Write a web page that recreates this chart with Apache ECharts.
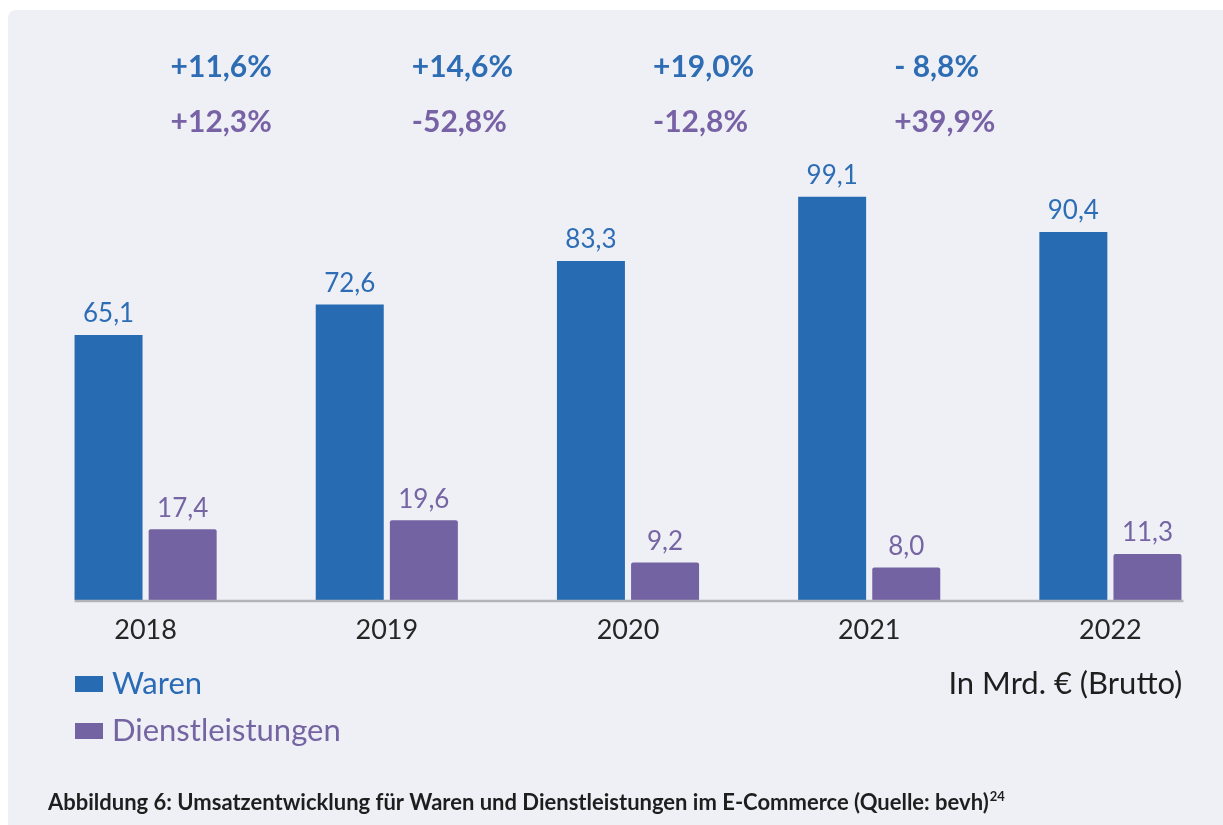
<!DOCTYPE html>
<html>
<head>
<meta charset="utf-8">
<script src="https://cdn.jsdelivr.net/npm/echarts@6/dist/echarts.min.js"></script>
<style>
  html, body { margin: 0; padding: 0; background: #ffffff; overflow: hidden; }
  #panel {
    position: absolute; left: 8px; top: 10px; right: 0; bottom: 0;
    background: #eff0f6; border-top-left-radius: 8px;
  }
  /* a bit wider than the window: the last category band runs past the right edge */
  #chart { position: absolute; left: 0; top: 0; width: 1240px; height: 825px; }
</style>
</head>
<body>
<div id="panel"></div>
<div id="chart"></div>
<script>
const years = ["2018", "2019", "2020", "2021", "2022"];
const waren = [65.1, 72.6, 83.3, 99.1, 90.4];
const dienstleistungen = [17.4, 19.6, 9.2, 8.0, 11.3];
// growth between consecutive years, shown above the bars
const warenGrowth = ["+11,6%", "+14,6%", "+19,0%", "- 8,8%"];
const dienstGrowth = ["+12,3%", "-52,8%", "-12,8%", "+39,9%"];

const blue = "#276bb3";
const purple = "#7463a2";
const font = "Lato";

const fmt = (v) => v.toFixed(1).replace(".", ",");

const chart = echarts.init(document.getElementById("chart"));

chart.setOption({
  animation: false,
  backgroundColor: "transparent",
  textStyle: { fontFamily: font },
  grid: { left: 25, top: 193, width: 1206, bottom: 225 },
  legend: {
    left: 75,
    top: 666,
    padding: 0,
    orient: "vertical",
    icon: "rect",
    itemWidth: 28,
    itemHeight: 16,
    itemGap: 11,
    textStyle: { fontSize: 31, lineHeight: 36, padding: [0, 0, 0, 4] },
    data: [
      { name: "Waren", textStyle: { color: "#2a6bb5" } },
      { name: "Dienstleistungen", textStyle: { color: "#7464a2" } },
    ],
  },
  xAxis: {
    type: "category",
    data: years,
    axisLine: { show: false },
    axisTick: { show: false },
    axisLabel: { color: "#262626", fontSize: 27, margin: 17 },
  },
  yAxis: {
    type: "value",
    min: 0,
    max: 100,
    show: false,
    splitLine: { show: false },
  },
  series: [
    {
      name: "Waren",
      type: "bar",
      data: waren,
      barWidth: 68,
      barGap: "9%",
      itemStyle: { color: blue },
      label: {
        show: true,
        position: "top",
        distance: 8,
        color: "#2d6db5",
        fontSize: 26,
        formatter: (p) => fmt(p.value),
      },
    },
    {
      name: "Dienstleistungen",
      type: "bar",
      data: dienstleistungen,
      barWidth: 68,
      itemStyle: { color: purple, borderRadius: [2, 2, 0, 0] },
      label: {
        show: true,
        position: "top",
        distance: 8,
        color: "#7565a3",
        fontSize: 26,
        formatter: (p) => fmt(p.value),
      },
    },
  ],
});

function buildGraphics() {
  const xs = years.map((y) => chart.convertToPixel({ xAxisIndex: 0 }, y));
  const y0 = chart.convertToPixel({ yAxisIndex: 0 }, 0);
  const els = [];

  els.push({
    type: "line",
    z: 10,
    shape: { x1: xs[0] - 71, y1: y0 + 1, x2: xs[xs.length - 1] + 73, y2: y0 + 1 },
    style: { stroke: "#b4b4b8", lineWidth: 2.5 },
  });

  warenGrowth.forEach((t, i) => {
    els.push({
      type: "text",
      x: xs[i] + 25,
      y: 67,
      style: {
        text: t, fill: "#2e6db4", fontFamily: font, fontWeight: "bold",
        fontSize: 30, verticalAlign: "middle", align: "left",
      },
    });
  });
  dienstGrowth.forEach((t, i) => {
    els.push({
      type: "text",
      x: xs[i] + 25,
      y: 122,
      style: {
        text: t, fill: "#7862a6", fontFamily: font, fontWeight: "bold",
        fontSize: 30, verticalAlign: "middle", align: "left",
      },
    });
  });

  els.push({
    type: "text",
    x: xs[xs.length - 1] + 72,
    y: 684,
    style: {
      text: "In Mrd. € (Brutto)", fill: "#1e1e1e", fontFamily: font,
      fontSize: 31, align: "right", verticalAlign: "middle",
    },
  });

  els.push({
    type: "text",
    x: 48,
    y: 803,
    style: {
      text: "{main|Abbildung 6: Umsatzentwicklung für Waren und Dienstleistungen im E-Commerce (Quelle: bevh)}{sup|24}",
      fill: "#1e1e1e",
      fontFamily: font,
      verticalAlign: "middle",
      rich: {
        main: { fontSize: 22, fontWeight: "bold", fontFamily: font, fill: "#1e1e1e", lineHeight: 26 },
        sup: { fontSize: 13, fontWeight: "bold", fontFamily: font, fill: "#1e1e1e", verticalAlign: "top", lineHeight: 26, padding: [0, 0, 10, 1] },
      },
    },
  });

  chart.setOption({ graphic: els });
}

buildGraphics();
</script>
</body>
</html>
